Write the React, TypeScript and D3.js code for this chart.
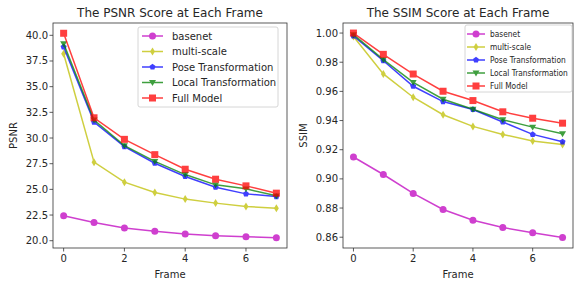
import React from "react";
import * as d3 from "d3";

const frames = [0, 1, 2, 3, 4, 5, 6, 7];
const seriesNames = ["basenet", "multi-scale", "Pose Transformation", "Local Transformation", "Full Model"];
const seriesColors = ["#bf00bf", "#bfbf00", "#0000ff", "#008000", "#ff0000"];
const seriesMarkers = ["circle", "diamond", "pentagon", "triangle", "square"];

const psnrBasenet = [22.43, 21.78, 21.23, 20.91, 20.65, 20.49, 20.39, 20.29];
const psnrMulti = [38.2, 27.65, 25.7, 24.7, 24.05, 23.66, 23.33, 23.17];
const psnrPose = [38.87, 31.55, 29.16, 27.54, 26.25, 25.21, 24.56, 24.3];
const psnrLocal = [39.19, 31.75, 29.26, 27.73, 26.44, 25.44, 25.05, 24.37];
const psnrFull = [40.2, 31.97, 29.87, 28.38, 26.96, 25.99, 25.34, 24.63];
const psnrTicks = [20, 22.5, 25, 27.5, 30, 32.5, 35, 37.5, 40];

const ssimBasenet = [0.915, 0.903, 0.89, 0.879, 0.8716, 0.8666, 0.863, 0.8598];
const ssimMulti = [0.9977, 0.972, 0.956, 0.944, 0.936, 0.9305, 0.926, 0.9236];
const ssimPose = [0.998, 0.981, 0.9635, 0.953, 0.9476, 0.939, 0.9305, 0.9254];
const ssimLocal = [0.9989, 0.9818, 0.9662, 0.9546, 0.9478, 0.9405, 0.9355, 0.9309];
const ssimFull = [1.0, 0.9854, 0.9719, 0.9601, 0.9537, 0.946, 0.9416, 0.9382];
const ssimTicks = [0.86, 0.88, 0.9, 0.92, 0.94, 0.96, 0.98, 1.0];

const frameTicks = [0, 2, 4, 6];

const FONT = "'DejaVu Sans', sans-serif";

function Marker({ kind, x, y, color }: { kind: string; x: number; y: number; color: string }) {
  const r = 3.5;
  if (kind === "circle") return <circle cx={x} cy={y} r={r} fill={color} />;
  if (kind === "square") return <rect x={x - r} y={y - r} width={2 * r} height={2 * r} fill={color} />;
  if (kind === "diamond")
    return <path d={`M${x},${y - r - 0.5}L${x + r * 0.7},${y}L${x},${y + r + 0.5}L${x - r * 0.7},${y}Z`} fill={color} />;
  if (kind === "triangle")
    return <path d={`M${x - r},${y - r * 0.7}L${x + r},${y - r * 0.7}L${x},${y + r}Z`} fill={color} />;
  const pts = d3.range(5).map((i) => {
    const a = -Math.PI / 2 + (i * 2 * Math.PI) / 5;
    return `${x + 3.2 * Math.cos(a)},${y + 3.2 * Math.sin(a)}`;
  });
  return <polygon points={pts.join(" ")} fill={color} />;
}

type Legend = {
  x: number;
  y: number;
  w: number;
  h: number;
  font: number;
  step: number;
  scaleX: number;
  lx1: number;
  lx2: number;
  tx: number;
};

type PanelProps = {
  left: number;
  right: number;
  title: string;
  ylabel: string;
  series: number[][];
  yDomain: [number, number];
  yTicks: number[];
  yFmt: (v: number) => string;
  legend: Legend;
};

function Panel({ left, right, title, ylabel, series, yDomain, yTicks, yFmt, legend }: PanelProps) {
  const top = 23;
  const bottom = 248;
  const x = d3.scaleLinear().domain([-0.35, 7.35]).range([left, right]);
  const y = d3.scaleLinear().domain(yDomain).range([bottom, top]);
  const line = d3
    .line<number>()
    .x((_, i) => x(frames[i]))
    .y((d) => y(d));

  return (
    <g fontFamily={FONT}>
      <text x={(left + right) / 2} y={17} textAnchor="middle" fontSize={12} fill="#262626">
        {title}
      </text>
      {series.map((s, k) => (
        <g key={k} opacity={0.75}>
          <path d={line(s) || ""} fill="none" stroke={seriesColors[k]} strokeWidth={1.5} />
          {s.map((v, i) => (
            <Marker key={i} kind={seriesMarkers[k]} x={x(frames[i])} y={y(v)} color={seriesColors[k]} />
          ))}
        </g>
      ))}
      <rect x={left} y={top} width={right - left} height={bottom - top} fill="none" stroke="#333" strokeWidth={0.8} />
      {yTicks.map((t) => (
        <g key={t}>
          <line x1={left - 3.5} x2={left} y1={y(t)} y2={y(t)} stroke="#333" strokeWidth={0.8} />
          <text x={left - 5} y={y(t)} dy="0.35em" textAnchor="end" fontSize={10} fill="#262626">
            {yFmt(t)}
          </text>
        </g>
      ))}
      {frameTicks.map((t) => (
        <g key={t}>
          <line x1={x(t)} x2={x(t)} y1={bottom} y2={bottom + 3.5} stroke="#333" strokeWidth={0.8} />
          <text x={x(t)} y={bottom + 14} textAnchor="middle" fontSize={10} fill="#262626">
            {t}
          </text>
        </g>
      ))}
      <text x={(left + right) / 2} y={278} textAnchor="middle" fontSize={10} fill="#262626">
        Frame
      </text>
      <text
        transform={`translate(${left - 36},${(top + bottom) / 2}) rotate(-90)`}
        textAnchor="middle"
        fontSize={10}
        fill="#262626"
      >
        {ylabel}
      </text>
      <g transform={`translate(${legend.x},${legend.y})`}>
        <rect x={0} y={0} width={legend.w} height={legend.h} rx={2} fill="#fff" fillOpacity={0.85} stroke="#ccc" strokeWidth={0.8} />
        {seriesNames.map((n, k) => {
          const cy = 9 + k * legend.step;
          return (
            <g key={n}>
              <g opacity={0.75}>
                <line x1={legend.lx1} x2={legend.lx2} y1={cy} y2={cy} stroke={seriesColors[k]} strokeWidth={1.5} />
                <Marker kind={seriesMarkers[k]} x={(legend.lx1 + legend.lx2) / 2} y={cy} color={seriesColors[k]} />
              </g>
              <text
                transform={`translate(${legend.tx},${cy}) scale(${legend.scaleX},1)`}
                dy="0.35em"
                fontSize={legend.font}
                fill="#262626"
              >
                {n}
              </text>
            </g>
          );
        })}
      </g>
    </g>
  );
}

export default function App() {
  return (
    <svg width={574} height={284} style={{ position: "absolute", left: 0, top: 0, background: "#fff" }}>
      <Panel
        left={53}
        right={287}
        title="The PSNR Score at Each Frame"
        ylabel="PSNR"
        series={[psnrBasenet, psnrMulti, psnrPose, psnrLocal, psnrFull]}
        yDomain={[19.29, 41.2]}
        yTicks={psnrTicks}
        yFmt={(v) => v.toFixed(1)}
        legend={{ x: 138, y: 27, w: 140, h: 80, font: 10, step: 15.5, scaleX: 1, lx1: 4, lx2: 25, tx: 34 }}
      />
      <Panel
        left={343}
        right={573}
        title="The SSIM Score at Each Frame"
        ylabel="SSIM"
        series={[ssimBasenet, ssimMulti, ssimPose, ssimLocal, ssimFull]}
        yDomain={[0.8526, 1.0069]}
        yTicks={ssimTicks}
        yFmt={(v) => v.toFixed(2)}
        legend={{ x: 465, y: 25, w: 107, h: 67, font: 8.5, step: 13, scaleX: 0.88, lx1: 2, lx2: 20, tx: 25 }}
      />
    </svg>
  );
}
